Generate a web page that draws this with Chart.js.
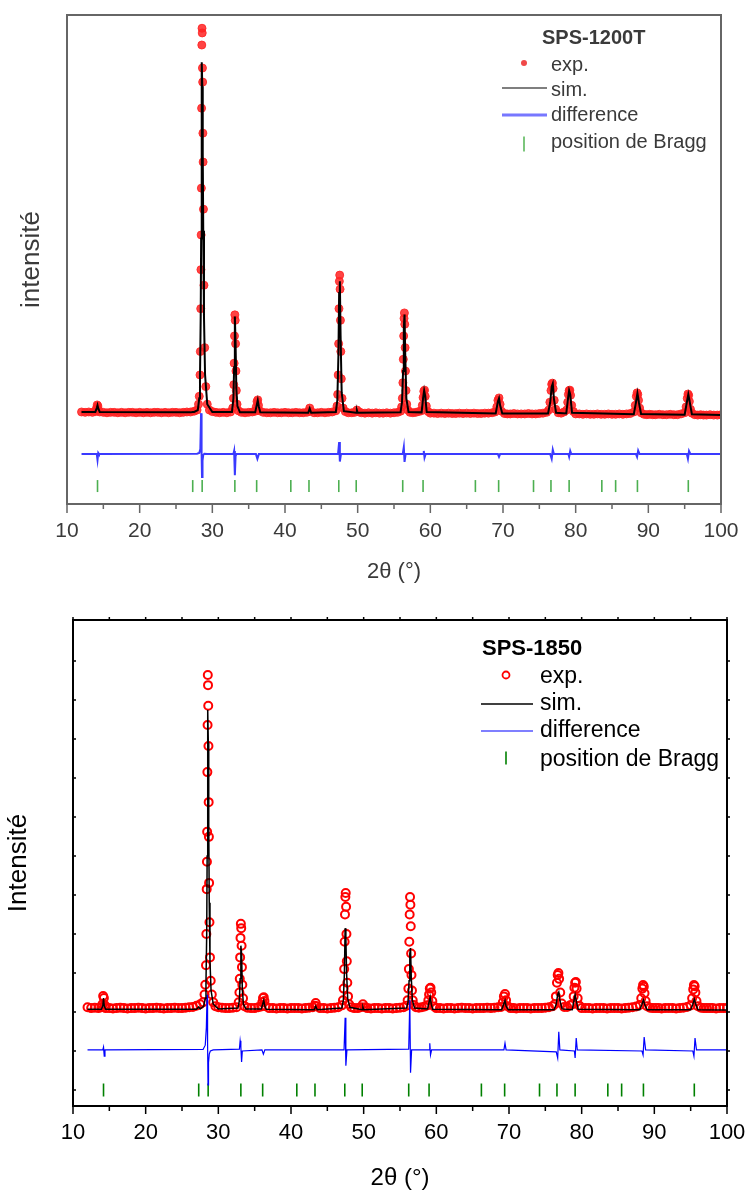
<!DOCTYPE html>
<html>
<head>
<meta charset="utf-8">
<script src="https://cdn.jsdelivr.net/npm/chart.js@4.4.1/dist/chart.umd.min.js"></script>
<style>
    html, body { margin: 0; padding: 0; background: #fff; }
    #wrapA { position: absolute; left: 0; top: 0; width: 747px; height: 595px; }
    #wrapB { position: absolute; left: 0; top: 595px; width: 747px; height: 596px; }
</style>
</head>
<body>
<div id="wrapA"><canvas id="chartA" width="747" height="595"></canvas></div>
<div id="wrapB"><canvas id="chartB" width="747" height="596"></canvas></div>
<script>
const FONT = "'Liberation Sans', Arial, Helvetica, sans-serif";

// 2theta of the measured points (shared by both patterns)
const expAngle = [
    12.0, 12.5, 13.0, 13.5,
    13.9, 14.05, 14.15, 14.25, 14.35, 14.5,
    15.0, 15.5, 16.0, 16.5, 17.0, 17.5, 18.0, 18.5, 19.0, 19.5, 20.0, 20.5, 21.0, 21.5, 22.0, 22.5, 23.0, 23.5, 24.0, 24.5, 25.0, 25.5, 26.0, 26.5, 27.0, 27.5,
    27.9, 28.1, 28.2, 28.3, 28.35, 28.4, 28.43, 28.46, 28.49, 28.52, 28.55, 28.58, 28.61, 28.64, 28.67, 28.7, 28.73, 28.78, 28.85, 28.95, 29.1, 29.3, 29.6,
    30.0, 30.5, 31.0, 31.5, 32.0, 32.5,
    32.8, 32.9, 32.95, 33.0, 33.05, 33.1, 33.15, 33.2, 33.25, 33.3, 33.4, 33.6,
    34.0, 34.5, 35.0, 35.5,
    35.9, 36.05, 36.15, 36.25, 36.35, 36.5,
    37.0, 37.5, 38.0, 38.5, 39.0, 39.5, 40.0, 40.5, 41.0, 41.5, 42.0, 42.5, 43.0,
    43.3, 43.4, 43.5,
    44.0, 44.5, 45.0, 45.5, 46.0, 46.5,
    47.0, 47.15, 47.25, 47.32, 47.38, 47.43, 47.48, 47.53, 47.58, 47.63, 47.68, 47.75, 47.85, 48.0, 48.3,
    48.7, 49.2, 49.6,
    49.9, 50.2,
    50.5, 51.0, 51.5, 52.0, 52.5, 53.0, 53.5, 54.0, 54.5, 55.0, 55.5,
    55.9, 56.05, 56.15, 56.22, 56.28, 56.33, 56.38, 56.43, 56.48, 56.53, 56.58, 56.65, 56.75, 56.9, 57.2,
    57.6, 58.0, 58.4,
    58.75, 58.9, 59.0, 59.1, 59.2, 59.3, 59.45, 59.7,
    60.0, 60.5, 61.0, 61.5, 62.0, 62.5, 63.0, 63.5, 64.0, 64.5, 65.0, 65.5, 66.0, 66.5, 67.0, 67.5, 68.0, 68.5,
    68.9, 69.15, 69.3, 69.45, 69.6, 69.8,
    70.2, 70.6, 71.0, 71.5, 72.0, 72.5, 73.0, 73.5, 74.0, 74.5, 75.0, 75.5, 76.0,
    76.3, 76.45, 76.6, 76.7, 76.8, 76.9, 77.05, 77.25,
    77.6, 78.0, 78.4,
    78.75, 78.9, 79.0, 79.1, 79.2, 79.3, 79.45, 79.7,
    80.0, 80.5, 81.0, 81.5, 82.0, 82.5, 83.0, 83.5, 84.0, 84.5, 85.0, 85.5, 86.0, 86.5, 87.0, 87.5,
    88.0, 88.2, 88.35, 88.45, 88.55, 88.65, 88.8, 89.0,
    89.4, 89.8, 90.2, 90.6, 91.0, 91.5, 92.0, 92.5, 93.0, 93.5, 94.0, 94.5,
    95.0, 95.2, 95.35, 95.45, 95.55, 95.65, 95.8, 96.0,
    96.4, 96.8, 97.2, 97.6, 98.0, 98.5, 99.0, 99.5, 100.0
];

// measured intensity, SPS-1200T (a.u.)
const expA = [
    1.95, 1.94, 1.95, 1.94,
    1.96, 2.04, 2.13, 2.10, 2.00, 1.95,
    1.94, 1.93, 1.94, 1.94, 1.93, 1.94, 1.93, 1.94, 1.94, 1.93, 1.94, 1.93, 1.94, 1.93, 1.94, 1.94, 1.93, 1.94, 1.93, 1.94, 1.94, 1.93, 1.94, 1.95, 1.95, 1.97,
    2.00, 2.15, 2.35, 2.90, 3.50, 4.60, 5.60, 6.49, 7.69, 9.74, 11.36, 11.79, 11.67, 10.77, 10.41, 9.10, 8.36, 7.15, 5.20, 3.60, 2.60, 2.15, 2.00,
    1.96, 1.94, 1.93, 1.94, 1.93, 1.95,
    2.05, 2.30, 2.65, 3.20, 3.90, 4.44, 4.30, 3.70, 3.00, 2.50, 2.15, 1.98,
    1.94, 1.93, 1.94, 1.95,
    1.97, 2.08, 2.22, 2.26, 2.12, 1.98,
    1.94, 1.93, 1.93, 1.94, 1.93, 1.93, 1.94, 1.93, 1.93, 1.94, 1.93, 1.93, 1.94,
    1.97, 2.05, 1.97,
    1.93, 1.93, 1.94, 1.93, 1.94, 1.95,
    1.98, 2.10, 2.40, 2.90, 3.70, 4.60, 5.30, 5.46, 5.10, 4.30, 3.50, 2.80, 2.30, 2.05, 1.96,
    1.93, 1.93, 1.94,
    2.00, 1.95,
    1.93, 1.92, 1.93, 1.92, 1.93, 1.92, 1.92, 1.93, 1.92, 1.93, 1.94,
    1.97, 2.08, 2.30, 2.70, 3.30, 3.90, 4.35, 4.49, 4.20, 3.60, 3.00, 2.50, 2.15, 2.00, 1.94,
    1.93, 1.94, 1.96,
    1.98, 2.12, 2.32, 2.48, 2.51, 2.35, 2.10, 1.96,
    1.92, 1.92, 1.91, 1.92, 1.91, 1.92, 1.91, 1.91, 1.92, 1.91, 1.92, 1.91, 1.92, 1.91, 1.91, 1.92, 1.92, 1.93,
    1.95, 2.08, 2.25, 2.31, 2.15, 1.97,
    1.91, 1.90, 1.90, 1.91, 1.90, 1.90, 1.90, 1.91, 1.90, 1.90, 1.91, 1.92, 1.94,
    2.00, 2.20, 2.50, 2.66, 2.69, 2.55, 2.25, 2.02,
    1.93, 1.92, 1.95,
    2.00, 2.20, 2.40, 2.50, 2.51, 2.38, 2.12, 1.96,
    1.90, 1.90, 1.89, 1.90, 1.89, 1.89, 1.90, 1.89, 1.89, 1.90, 1.89, 1.89, 1.90, 1.89, 1.90, 1.91,
    1.95, 2.12, 2.35, 2.44, 2.40, 2.25, 2.05, 1.93,
    1.89, 1.88, 1.89, 1.88, 1.88, 1.89, 1.88, 1.88, 1.89, 1.88, 1.88, 1.90,
    1.93, 2.08, 2.30, 2.41, 2.38, 2.22, 2.02, 1.92,
    1.88, 1.87, 1.88, 1.87, 1.87, 1.88, 1.87, 1.87, 1.88
];

// measured intensity, SPS-1850 (a.u.)
const expB = [
    2.12, 2.10, 2.11, 2.10,
    2.12, 2.20, 2.41, 2.36, 2.18, 2.10,
    2.10, 2.09, 2.10, 2.11, 2.10, 2.09, 2.10, 2.10, 2.11, 2.10, 2.09, 2.10, 2.10, 2.11, 2.10, 2.09, 2.10, 2.10, 2.11, 2.10, 2.10, 2.11, 2.12, 2.13, 2.16, 2.20,
    2.25, 2.45, 2.70, 3.20, 4.00, 5.15, 5.85, 6.62, 8.15, 9.36, 10.64, 10.38, 9.85, 8.82, 7.38, 6.49, 5.31, 4.30, 3.40, 2.80, 2.45, 2.25, 2.15,
    2.12, 2.11, 2.10, 2.10, 2.11, 2.12,
    2.25, 2.50, 2.85, 3.40, 3.90, 4.26, 4.15, 3.70, 3.15, 2.70, 2.35, 2.15,
    2.11, 2.10, 2.10, 2.12,
    2.14, 2.25, 2.36, 2.38, 2.28, 2.15,
    2.10, 2.10, 2.09, 2.10, 2.10, 2.09, 2.10, 2.10, 2.10, 2.09, 2.10, 2.11, 2.12,
    2.16, 2.23, 2.15,
    2.10, 2.10, 2.09, 2.10, 2.11, 2.12,
    2.17, 2.30, 2.60, 3.10, 3.80, 4.50, 4.95, 5.05, 4.70, 4.00, 3.30, 2.75, 2.40, 2.20, 2.12,
    2.10, 2.10, 2.12,
    2.20, 2.12,
    2.10, 2.09, 2.10, 2.10, 2.09, 2.10, 2.10, 2.09, 2.10, 2.11, 2.12,
    2.16, 2.30, 2.60, 3.10, 3.80, 4.50, 4.95, 4.75, 4.20, 3.50, 2.95, 2.55, 2.30, 2.18, 2.12,
    2.11, 2.12, 2.14,
    2.17, 2.30, 2.45, 2.60, 2.62, 2.50, 2.28, 2.14,
    2.10, 2.10, 2.09, 2.10, 2.10, 2.09, 2.10, 2.11, 2.10, 2.10, 2.09, 2.10, 2.10, 2.10, 2.11, 2.10, 2.11, 2.12,
    2.13, 2.25, 2.40, 2.46, 2.30, 2.15,
    2.10, 2.10, 2.09, 2.10, 2.10, 2.10, 2.09, 2.10, 2.10, 2.10, 2.11, 2.12, 2.15,
    2.20, 2.40, 2.75, 2.95, 3.00, 2.85, 2.50, 2.22,
    2.13, 2.13, 2.17,
    2.20, 2.40, 2.62, 2.75, 2.77, 2.60, 2.35, 2.16,
    2.10, 2.10, 2.10, 2.09, 2.10, 2.10, 2.10, 2.09, 2.10, 2.10, 2.10, 2.09, 2.10, 2.11, 2.12, 2.14,
    2.18, 2.35, 2.60, 2.69, 2.65, 2.48, 2.28, 2.15,
    2.11, 2.10, 2.10, 2.10, 2.09, 2.10, 2.10, 2.10, 2.09, 2.10, 2.11, 2.13,
    2.17, 2.35, 2.58, 2.69, 2.66, 2.50, 2.28, 2.15,
    2.11, 2.10, 2.10, 2.10, 2.10, 2.09, 2.10, 2.10, 2.10
];

// calculated profile
const simAngle = [
    12.0,
    13.9, 14.1, 14.2, 14.3, 14.5,
    27.0, 27.3, 27.5,
    28.0, 28.2, 28.3, 28.4, 28.46, 28.52, 28.56, 28.62, 28.68, 28.75, 28.85, 29.0, 29.3, 30.0,
    32.7, 32.9, 33.0, 33.1, 33.2, 33.3, 33.45, 33.8,
    35.9, 36.1, 36.25, 36.4, 36.6,
    43.2, 43.4, 43.6,
    47.0, 47.2, 47.35, 47.45, 47.55, 47.65, 47.8, 48.1,
    49.8, 49.9, 50.0,
    55.9, 56.1, 56.25, 56.35, 56.45, 56.55, 56.7, 57.0,
    58.8, 59.0, 59.15, 59.3, 59.5,
    69.0, 69.3, 69.45, 69.6, 69.9,
    76.2, 76.5, 76.7, 76.85, 77.0, 77.3,
    78.7, 78.95, 79.1, 79.25, 79.5,
    88.0, 88.3, 88.5, 88.7, 89.0,
    95.0, 95.3, 95.5, 95.7, 96.0,
    100.0
];
const simA = [
    1.95,
    1.95, 2.05, 2.12, 2.04, 1.95,
    1.94, 1.95, 1.95,
    2.00, 2.30, 2.80, 4.40, 6.40, 9.30, 10.92, 10.30, 8.60, 6.60, 4.40, 2.90, 2.15, 1.95,
    1.95, 2.30, 3.10, 4.40, 3.70, 2.55, 2.10, 1.94,
    1.94, 2.12, 2.25, 2.08, 1.94,
    1.93, 2.04, 1.93,
    1.95, 2.25, 3.40, 5.00, 5.30, 3.90, 2.45, 1.97,
    1.93, 1.99, 1.93,
    1.94, 2.20, 3.00, 4.10, 4.45, 3.40, 2.30, 1.95,
    1.94, 2.30, 2.50, 2.35, 1.95,
    1.91, 2.22, 2.30, 2.12, 1.91,
    1.91, 2.20, 2.60, 2.68, 2.30, 1.93,
    1.91, 2.30, 2.50, 2.40, 1.93,
    1.89, 2.20, 2.43, 2.20, 1.90,
    1.88, 2.20, 2.40, 2.20, 1.89,
    1.87
];
const simB = [
    2.07,
    2.07, 2.15, 2.36, 2.15, 2.07,
    2.07, 2.13, 2.08,
    2.15, 2.35, 2.75, 4.00, 6.00, 8.60, 9.74, 8.90, 6.80, 4.80, 3.30, 2.55, 2.20, 2.08,
    2.10, 2.30, 2.85, 3.70, 3.50, 2.60, 2.20, 2.08,
    2.08, 2.20, 2.30, 2.15, 2.07,
    2.06, 2.15, 2.06,
    2.10, 2.30, 3.00, 4.15, 3.90, 3.00, 2.35, 2.12,
    2.06, 2.12, 2.06,
    2.10, 2.25, 2.80, 3.50, 3.64, 2.90, 2.30, 2.10,
    2.08, 2.25, 2.38, 2.20, 2.07,
    2.06, 2.22, 2.30, 2.15, 2.06,
    2.06, 2.20, 2.45, 2.51, 2.30, 2.08,
    2.06, 2.30, 2.44, 2.30, 2.07,
    2.06, 2.20, 2.31, 2.18, 2.06,
    2.06, 2.20, 2.33, 2.20, 2.06,
    2.05
];

// difference curve (offset below the pattern)
const diffAngle = [
    12.0,
    14.1, 14.2, 14.3, 14.4,
    27.9, 28.2, 28.35, 28.45, 28.52, 28.58, 28.65, 28.75, 28.9, 29.3,
    32.9, 33.0, 33.1, 33.2, 33.3,
    36.0, 36.2, 36.4,
    47.3, 47.45, 47.55, 47.7,
    56.2, 56.35, 56.45, 56.6,
    59.0, 59.1, 59.2, 59.35,
    69.3, 69.45, 69.6,
    76.5, 76.7, 76.85, 77.0,
    79.0, 79.1, 79.25, 79.4,
    88.3, 88.45, 88.6, 88.8,
    95.3, 95.45, 95.6, 95.8,
    100.0
];
const diffA = [
    0.87,
    0.87, 0.72, 0.90, 0.87,
    0.88, 0.90, 1.00, 1.92, 0.90, 0.28, 0.70, 0.85, 0.88, 0.87,
    0.87, 0.95, 0.33, 0.82, 0.87,
    0.87, 0.75, 0.87,
    0.87, 1.18, 0.68, 0.87,
    0.87, 1.05, 0.67, 0.87,
    0.87, 0.95, 0.78, 0.87,
    0.87, 0.80, 0.87,
    0.87, 0.75, 0.98, 0.87,
    0.87, 0.80, 0.95, 0.87,
    0.87, 0.80, 0.96, 0.87,
    0.87, 0.75, 0.95, 0.87,
    0.87
];
const diffB = [
    1.03,
    1.03, 1.10, 0.87, 1.03,
    1.04, 1.15, 1.60, 2.44, 1.20, 0.13, 0.70, 0.92, 1.00, 1.03,
    1.05, 1.26, 1.10, 0.72, 1.00,
    1.03, 0.92, 1.03,
    1.03, 1.85, 0.62, 1.03,
    1.05, 2.31, 0.44, 1.03,
    1.03, 1.20, 0.90, 1.03,
    1.03, 1.20, 1.03,
    0.98, 0.82, 1.49, 1.03,
    1.00, 0.82, 1.33, 1.03,
    1.00, 0.90, 1.36, 1.03,
    1.00, 0.87, 1.33, 1.03,
    1.03
];

// Bragg reflections
const braggAngle = [14.2, 27.3, 28.6, 33.1, 36.1, 40.8, 43.3, 47.4, 49.8, 56.2, 59.0, 66.2, 69.4, 74.2, 76.6, 79.1, 83.6, 85.5, 88.5, 95.5];
const braggLevelA = 0.05;
const braggLevelB = 0.0;

const xTicks = [10, 20, 30, 40, 50, 60, 70, 80, 90, 100];

const pts = (xs, ys) => xs.map((x, i) => ({ x: x, y: ys[i] }));

// frame, extra tick marks and the in-plot legend
const decorPlugin = {
    id: "decor",
    afterDatasetsDraw(chart, args, o) {
        const { ctx, chartArea: a, scales } = chart;
        ctx.save();
        ctx.strokeStyle = o.frameColor;
        ctx.lineWidth = o.tickWidth;
        ctx.beginPath();
        for (let v = 10; v <= 100; v += 5) {
            const px = scales.x.getPixelForValue(v);
            const len = v % 10 === 0 ? o.majorLen : o.minorLen;
            ctx.moveTo(px, a.bottom);
            ctx.lineTo(px, a.bottom + len);
            if (o.topLen) {
                ctx.moveTo(px, a.top);
                ctx.lineTo(px, a.top - o.topLen);
            }
        }
        if (o.yLen) {
            for (let v = 0; v <= 11; v++) {
                const py = scales.y.getPixelForValue(v);
                ctx.moveTo(a.left, py);
                ctx.lineTo(a.left + o.yLen, py);
                ctx.moveTo(a.right, py);
                ctx.lineTo(a.right + o.yLen, py);
            }
        }
        ctx.stroke();
        ctx.lineWidth = o.frameWidth;
        ctx.strokeRect(a.left, a.top, a.right - a.left, a.bottom - a.top);
        ctx.restore();
    },
    afterDraw(chart, args, o) {
        const L = o.legend;
        const ctx = chart.ctx;
        ctx.save();
        ctx.textAlign = "left";
        ctx.textBaseline = "alphabetic";
        ctx.fillStyle = L.color;
        ctx.font = "bold " + L.titleSize + "px " + FONT;
        ctx.fillText(L.title, L.titleX, L.titleY);
        ctx.font = L.size + "px " + FONT;
        L.rows.forEach(r => ctx.fillText(r.text, L.textX, r.y));

        const r = L.rows;
        // exp.
        ctx.beginPath();
        ctx.arc(L.markX, r[0].my, L.dotRadius, 0, Math.PI * 2);
        if (L.dotFill) {
            ctx.fillStyle = L.dotColor;
            ctx.fill();
        } else {
            ctx.strokeStyle = L.dotColor;
            ctx.lineWidth = 1.8;
            ctx.stroke();
        }
        // sim.
        ctx.strokeStyle = L.simColor;
        ctx.lineWidth = L.simWidth;
        ctx.beginPath();
        ctx.moveTo(L.lineX0, r[1].my);
        ctx.lineTo(L.lineX1, r[1].my);
        ctx.stroke();
        // difference
        ctx.strokeStyle = L.diffColor;
        ctx.lineWidth = L.diffWidth;
        ctx.beginPath();
        ctx.moveTo(L.lineX0, r[2].my);
        ctx.lineTo(L.lineX1, r[2].my);
        ctx.stroke();
        // Bragg
        ctx.strokeStyle = L.braggColor;
        ctx.lineWidth = 1.6;
        ctx.beginPath();
        ctx.moveTo(L.markX, r[3].my - L.tickHalf);
        ctx.lineTo(L.markX, r[3].my + L.tickHalf);
        ctx.stroke();
        ctx.restore();
    }
};

function makeChart(id, cfg) {
    return new Chart(document.getElementById(id), {
        type: "scatter",
        data: {
            datasets: [
                {
                    label: "sim.",
                    data: pts(simAngle, cfg.sim),
                    showLine: true,
                    borderColor: "#000000",
                    borderWidth: cfg.simWidth,
                    pointRadius: 0,
                    order: 0
                },
                {
                    label: "difference",
                    data: pts(diffAngle, cfg.diff),
                    showLine: true,
                    borderColor: cfg.diffColor,
                    borderWidth: cfg.diffWidth,
                    pointRadius: 0,
                    order: 1
                },
                {
                    label: "exp.",
                    data: pts(expAngle, cfg.exp),
                    pointStyle: "circle",
                    pointRadius: cfg.expRadius,
                    pointBackgroundColor: cfg.expFill,
                    pointBorderColor: cfg.expColor,
                    pointBorderWidth: cfg.expBorder,
                    borderColor: cfg.expColor,
                    order: 2
                },
                {
                    label: "position de Bragg",
                    data: braggAngle.map(x => ({ x: x, y: cfg.braggLevel })),
                    pointStyle: "line",
                    pointRotation: 90,
                    pointRadius: cfg.braggHalf,
                    pointBorderColor: cfg.braggColor,
                    borderColor: cfg.braggColor,
                    pointBorderWidth: 1.6,
                    borderWidth: 1.6,
                    order: 3
                }
            ]
        },
        options: {
            responsive: false,
            animation: false,
            events: [],
            layout: { padding: cfg.padding },
            plugins: {
                legend: { display: false },
                tooltip: { enabled: false },
                decor: cfg.decor
            },
            scales: {
                x: {
                    type: "linear",
                    min: 10,
                    max: 100,
                    afterBuildTicks: s => { s.ticks = xTicks.map(v => ({ value: v })); },
                    grid: { display: false, drawTicks: false },
                    border: { display: false },
                    ticks: {
                        autoSkip: false,
                        maxRotation: 0,
                        color: cfg.textColor,
                        padding: cfg.tickPad,
                        font: { family: FONT, size: cfg.tickSize }
                    },
                    title: {
                        display: true,
                        text: "2θ (°)",
                        color: cfg.textColor,
                        font: { family: FONT, size: cfg.xTitleSize, lineHeight: 1 },
                        padding: { top: 0, bottom: cfg.xTitlePad }
                    },
                    afterFit: s => {
                        s.height = cfg.xHeight;
                        s.paddingLeft = 0;
                        s.paddingRight = 0;
                    }
                },
                y: {
                    min: -0.41,
                    max: cfg.yMax,
                    grid: { display: false, drawTicks: false },
                    border: { display: false },
                    ticks: { display: false },
                    title: {
                        display: true,
                        text: cfg.yTitle,
                        color: cfg.textColor,
                        font: { family: FONT, size: 26, lineHeight: 1 },
                        padding: { top: cfg.yTitlePad, bottom: 0 }
                    },
                    afterFit: s => {
                        s.width = cfg.yWidth;
                        s.paddingTop = 0;
                        s.paddingBottom = 0;
                    }
                }
            }
        },
        plugins: [decorPlugin]
    });
}

// (a) SPS-1200T
makeChart("chartA", {
    exp: expA, sim: simA, diff: diffA,
    padding: { top: 15, right: 26, left: 0, bottom: 0 },
    yWidth: 67, xHeight: 91, yMax: 12.13,
    yTitle: "intensité", yTitlePad: 19,
    textColor: "#3a3a3a", tickSize: 21, tickPad: 15, xTitleSize: 22, xTitlePad: 12,
    simWidth: 2, diffColor: "#3a3aff", diffWidth: 2,
    expRadius: 4, expFill: "rgba(255,35,35,0.85)", expColor: "rgba(255,35,35,0.85)", expBorder: 1,
    braggLevel: braggLevelA, braggHalf: 6, braggColor: "#4caf50",
    decor: {
        frameColor: "#666666", frameWidth: 2, tickWidth: 1.5, majorLen: 9, minorLen: 5,
        legend: {
            title: "SPS-1200T", titleX: 542, titleY: 44, titleSize: 20,
            size: 20, color: "#3a3a3a", textX: 551,
            markX: 524, lineX0: 502, lineX1: 547,
            rows: [
                { text: "exp.", y: 71, my: 63 },
                { text: "sim.", y: 96, my: 88 },
                { text: "difference", y: 121, my: 115 },
                { text: "position de Bragg", y: 148, my: 144 }
            ],
            dotRadius: 3, dotFill: true, dotColor: "#f04848",
            simColor: "#555555", simWidth: 1.5,
            diffColor: "#7777ff", diffWidth: 3,
            braggColor: "#5cb85c", tickHalf: 7.5
        }
    }
});

// (b) SPS-1850
makeChart("chartB", {
    exp: expB, sim: simB, diff: diffB,
    padding: { top: 25, right: 20, left: 0, bottom: 0 },
    yWidth: 73, xHeight: 85, yMax: 12.05,
    yTitle: "Intensité", yTitlePad: 6,
    textColor: "#000000", tickSize: 22, tickPad: 14, xTitleSize: 24, xTitlePad: 1,
    simWidth: 1.5, diffColor: "#0000ff", diffWidth: 1.2,
    expRadius: 4, expFill: "rgba(255,255,255,0)", expColor: "#ff0000", expBorder: 2,
    braggLevel: braggLevelB, braggHalf: 6.5, braggColor: "#008000",
    decor: {
        frameColor: "#000000", frameWidth: 2, tickWidth: 1.5, majorLen: 8, minorLen: 5,
        topLen: 3, yLen: 3,
        legend: {
            title: "SPS-1850", titleX: 482, titleY: 60, titleSize: 22,
            size: 23, color: "#000000", textX: 540,
            markX: 506, lineX0: 481, lineX1: 533,
            rows: [
                { text: "exp.", y: 88, my: 80 },
                { text: "sim.", y: 115, my: 109 },
                { text: "difference", y: 142, my: 136 },
                { text: "position de Bragg", y: 171, my: 163 }
            ],
            dotRadius: 3.5, dotFill: false, dotColor: "#ff0000",
            simColor: "#000000", simWidth: 1.5,
            diffColor: "#0000ff", diffWidth: 1.2,
            braggColor: "#008000", tickHalf: 6.5
        }
    }
});
</script>
</body>
</html>
